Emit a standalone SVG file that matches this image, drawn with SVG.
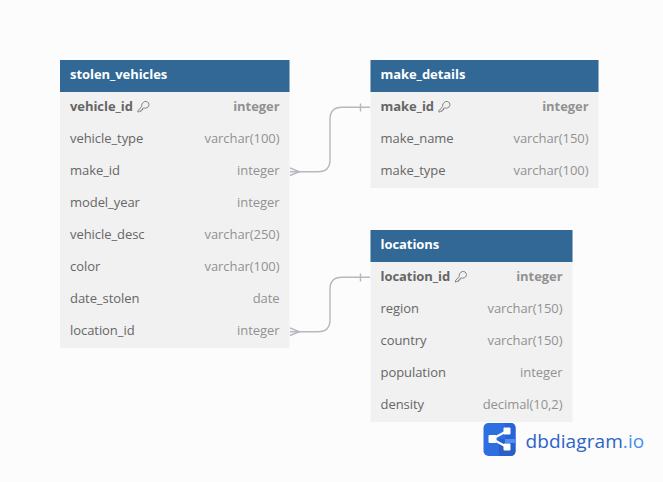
<svg xmlns="http://www.w3.org/2000/svg" width="663" height="482" viewBox="0 0 663 482">
<style>
text{font-family:"Open Sans","Noto Sans","DejaVu Sans",sans-serif;font-size:13px;letter-spacing:-.06px}
.body{fill:#f1f1f1}
.head{fill:#316896}
.title{fill:#fff;font-weight:700}
.f{fill:#666}
.t{fill:#919191;text-anchor:end}
.b{font-weight:700}
.k{fill:none;stroke:#777;stroke-width:.9}
.c{fill:none;stroke:#b7b7be;stroke-width:1.400}
</style>
<defs>
<g id="key"><path class="k" d="M6.500 1.200A3.300 3.300 0 1 1 9.800 6.800Q8.500 7.400 7 7L5.500 7.500V9H4V10.300H2.500L1 11.200L.8 9.800L4.600 5.600Q4.200 2.600 6.500 1.200Z"/></g>
</defs>
<rect width="663" height="482" fill="#fcfcfd"/>
<g id="connectors">
<path class="c" d="M290 171.700H318Q330 171.700 330 159.700V119.300Q330 107.300 342 107.300H370"/>
<path class="c" d="M290 331.700H318Q330 331.700 330 319.700V289.300Q330 277.300 342 277.300H370"/>
<path class="c" stroke-width="1" d="M290 168L299.500 171.700L290 175.500M360.500 103.500V111.500"/>
<path class="c" stroke-width="1" d="M290 328L299.500 331.700L290 335.500M360.500 273.500V281.500"/>
</g>
<g id="stolen_vehicles">
<rect class="body" x="60" y="60" width="229.500" height="288"/>
<rect class="head" x="60" y="60" width="229.500" height="32"/>
<text class="title" x="70" y="79">stolen_vehicles</text>
<text class="f b" x="70" y="111">vehicle_id</text><use href="#key" x="137" y="101"/><text class="t b" x="279.500" y="111">integer</text>
<text class="f" x="70" y="143">vehicle_type</text><text class="t" x="279.500" y="143">varchar(100)</text>
<text class="f" x="70" y="175">make_id</text><text class="t" x="279.500" y="175">integer</text>
<text class="f" x="70" y="207">model_year</text><text class="t" x="279.500" y="207">integer</text>
<text class="f" x="70" y="239">vehicle_desc</text><text class="t" x="279.500" y="239">varchar(250)</text>
<text class="f" x="70" y="271">color</text><text class="t" x="279.500" y="271">varchar(100)</text>
<text class="f" x="70" y="303">date_stolen</text><text class="t" x="279.500" y="303">date</text>
<text class="f" x="70" y="335">location_id</text><text class="t" x="279.500" y="335">integer</text>
</g>
<g id="make_details">
<rect class="body" x="370.500" y="60" width="228" height="128"/>
<rect class="head" x="370.500" y="60" width="228" height="32"/>
<text class="title" x="380.500" y="79">make_details</text>
<text class="f b" x="380.500" y="111">make_id</text><use href="#key" x="438" y="101"/><text class="t b" x="588.500" y="111">integer</text>
<text class="f" x="380.500" y="143">make_name</text><text class="t" x="588.500" y="143">varchar(150)</text>
<text class="f" x="380.500" y="175">make_type</text><text class="t" x="588.500" y="175">varchar(100)</text>
</g>
<g id="locations">
<rect class="body" x="370.500" y="230" width="202" height="192"/>
<rect class="head" x="370.500" y="230" width="202" height="32"/>
<text class="title" x="380.500" y="249">locations</text>
<text class="f b" x="380.500" y="281">location_id</text><use href="#key" x="454.500" y="271"/><text class="t b" x="562.500" y="281">integer</text>
<text class="f" x="380.500" y="313">region</text><text class="t" x="562.500" y="313">varchar(150)</text>
<text class="f" x="380.500" y="345">country</text><text class="t" x="562.500" y="345">varchar(150)</text>
<text class="f" x="380.500" y="377">population</text><text class="t" x="562.500" y="377">integer</text>
<text class="f" x="380.500" y="409">density</text><text class="t" x="562.500" y="409">decimal(10,2)</text>
</g>
<g id="logo">
<rect x="483.500" y="423" width="32" height="33" rx="5" fill="#2d6fe0"/>
<path d="M505 423H510.500Q515.500 423 515.500 428V439H505Z" fill="#2a63d6"/>
<path d="M499 439H515.500V451Q515.500 456 510.500 456H499Z" fill="#2a5fc9"/>
<path d="M505 439H515.500V443H505Z" fill="#4f8ff0"/>
<path d="M492 439L507 431M492 439L507 447" stroke="#fff" stroke-width="2" fill="none"/>
<rect x="488.500" y="435" width="8" height="8" rx="1" fill="#fff"/>
<rect x="503.500" y="427.500" width="7" height="7" rx="1" fill="#fff"/>
<rect x="503.500" y="443.500" width="7" height="7" rx="1" fill="#fff"/>
<text x="525.500" y="447.500" style="font-size:19px;letter-spacing:.1px" fill="#2c63c8">dbdiagram<tspan fill="#4a8fe8">.io</tspan></text>
</g>
</svg>
